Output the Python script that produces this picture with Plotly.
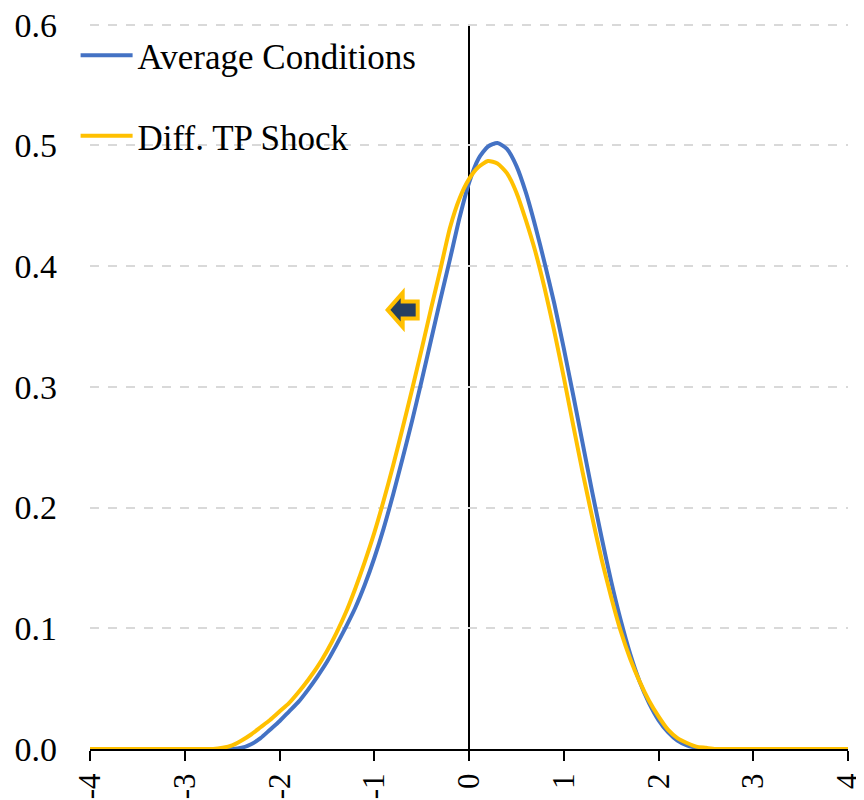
import plotly.graph_objects as go

x_vals = [-4.0, -3.0, -2.7, -2.6, -2.5, -2.4, -2.3, -2.2, -2.1, -2.0, -1.9, -1.8, -1.7, -1.6, -1.5,
          -1.4, -1.3, -1.2, -1.1, -1.0, -0.9, -0.8, -0.7, -0.6, -0.5, -0.4, -0.3, -0.2, -0.1,
          0.0, 0.1, 0.2, 0.3, 0.4, 0.5, 0.6, 0.7, 0.8, 0.9, 1.0, 1.1, 1.2, 1.3, 1.4, 1.5,
          1.6, 1.7, 1.8, 1.9, 2.0, 2.1, 2.2, 2.3, 2.4, 2.5, 2.6, 2.7, 3.0, 4.0]

average_conditions = [0.0, 0.0, 0.0, 0.0, 0.0, 0.001, 0.004, 0.009, 0.016, 0.023, 0.031, 0.039, 0.049, 0.060, 0.072,
                      0.086, 0.101, 0.117, 0.136, 0.158, 0.183, 0.211, 0.241, 0.272, 0.305, 0.339, 0.373, 0.406, 0.440,
                      0.469, 0.489, 0.499, 0.502, 0.497, 0.483, 0.461, 0.433, 0.402, 0.369, 0.332, 0.293, 0.253, 0.213, 0.175, 0.139,
                      0.107, 0.079, 0.056, 0.038, 0.024, 0.014, 0.007, 0.003, 0.001, 0.0, 0.0, 0.0, 0.0, 0.0]

diff_tp_shock = [0.0, 0.0, 0.0, 0.001, 0.003, 0.007, 0.012, 0.018, 0.024, 0.031, 0.038, 0.047, 0.057, 0.068, 0.081,
                 0.096, 0.113, 0.133, 0.155, 0.179, 0.206, 0.235, 0.266, 0.298, 0.331, 0.365, 0.398, 0.432, 0.456,
                 0.472, 0.482, 0.487, 0.485, 0.477, 0.461, 0.438, 0.412, 0.381, 0.346, 0.308, 0.268, 0.229, 0.192, 0.157, 0.126,
                 0.098, 0.075, 0.056, 0.040, 0.027, 0.016, 0.009, 0.005, 0.002, 0.001, 0.0, 0.0, 0.0, 0.0]

x_ticks = [-4, -3, -2, -1, 0, 1, 2, 3, 4]
y_ticks = [0.0, 0.1, 0.2, 0.3, 0.4, 0.5, 0.6]
y_tick_text = ["0.0", "0.1", "0.2", "0.3", "0.4", "0.5", "0.6"]

FONT = "Liberation Serif"
BLUE = "#4472C4"
GOLD = "#FFC000"

fig = go.Figure()
fig.add_trace(go.Scatter(x=x_vals, y=average_conditions, mode="lines", name="Average Conditions",
                         line=dict(color=BLUE, width=4, shape="spline", smoothing=0.6),
                         legendgroup="a"))
fig.add_trace(go.Scatter(x=x_vals, y=diff_tp_shock, mode="lines", name="Diff. TP Shock",
                         line=dict(color=GOLD, width=4, shape="spline", smoothing=0.6),
                         legendgroup="b"))

# vertical axis line at x = 0, spanning the value range
fig.add_shape(type="line", xref="x", yref="y", x0=0, x1=0, y0=0, y1=y_ticks[-1],
              line=dict(color="black", width=2), layer="below")

# left-pointing block arrow marker
fig.add_shape(type="path", xref="x", yref="y", xsizemode="pixel", ysizemode="pixel",
              xanchor=-0.70, yanchor=0.3637,
              path="M -15 0 L 0 17 L 0 8.5 L 15 8.5 L 15 -8.5 L 0 -8.5 L 0 -17 Z",
              line=dict(color=GOLD, width=4), fillcolor="#243F60", layer="above")

fig.update_layout(
    width=864, height=800,
    margin=dict(l=82, r=24, t=13, b=59, autoexpand=False),
    paper_bgcolor="white", plot_bgcolor="white",
    font=dict(family=FONT, size=35, color="black"),
    showlegend=True,
    legend=dict(x=-0.019, y=0.993, xanchor="left", yanchor="top", itemwidth=52,
                bgcolor="rgba(0,0,0,0)", traceorder="grouped", tracegroupgap=32,
                font=dict(family=FONT, size=35, color="black")),
)
fig.update_xaxes(range=[-4, 4], tickmode="array", tickvals=x_ticks,
                 ticktext=[str(v) for v in x_ticks], tickangle=-90,
                 showgrid=False, zeroline=False,
                 showline=True, linecolor="black", linewidth=2,
                 ticks="outside", ticklen=10, tickwidth=2, tickcolor="black",
                 tickfont=dict(family=FONT, size=31), automargin=False,
                 ticklabeloverflow="allow")
fig.update_yaxes(range=[0, 0.603], tickmode="array", tickvals=y_ticks, ticktext=y_tick_text,
                 showgrid=True, gridcolor="#D9D9D9", gridwidth=2, griddash="dash",
                 zeroline=False, showline=False, ticks="", ticklabelstandoff=32,
                 tickfont=dict(family=FONT, size=34), automargin=False,
                 ticklabeloverflow="allow")

fig.write_html("out.html")
